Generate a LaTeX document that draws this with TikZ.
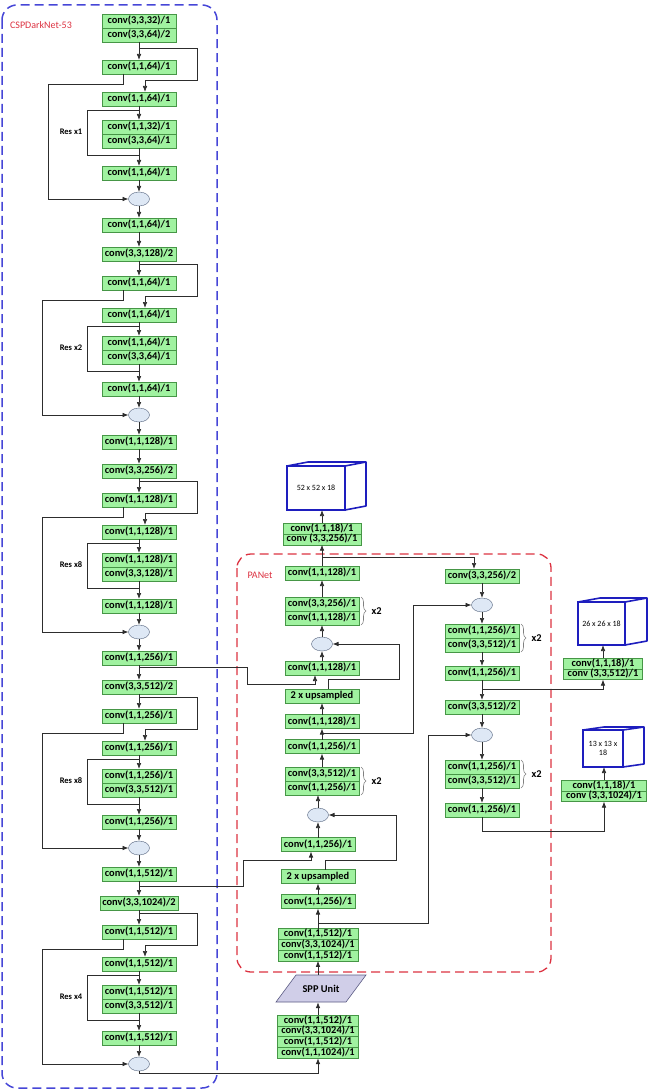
\documentclass[tikz,border=0pt]{standalone}
\usepackage{fontspec}
\setmainfont{Carlito}
\usetikzlibrary{positioning,shapes.geometric,arrows.meta,decorations.pathreplacing}
\definecolor{boxgreen}{RGB}{160,242,160}
\definecolor{boxedge}{RGB}{70,150,70}
\definecolor{catfill}{RGB}{222,232,245}
\definecolor{catedge}{RGB}{80,95,120}
\definecolor{linegray}{RGB}{45,45,45}
\definecolor{csblue}{RGB}{70,70,215}
\definecolor{panred}{RGB}{220,50,65}
\definecolor{cubeblue}{RGB}{30,30,190}
\definecolor{sppfill}{RGB}{208,206,232}
\definecolor{sppedge}{RGB}{90,90,130}
\newcommand{\cvf}{\fontsize{10.4pt}{11pt}\selectfont\bfseries}

\begin{document}
\begin{tikzpicture}[x=1pt,y=-1pt,>={Latex[length=6pt,width=4.6pt]},
  blk/.style={draw=boxedge,fill=boxgreen,font=\cvf,minimum width=74pt,minimum height=14pt,inner xsep=2pt,inner ysep=0pt,outer sep=0pt,text height=7.6pt,text depth=2.3pt},
  tblk/.style={blk,minimum height=10.8pt},
  cat/.style={ellipse,draw=catedge,fill=catfill,minimum width=21pt,minimum height=14pt,inner sep=0pt,outer sep=0pt},
  arr/.style={draw=linegray,line width=0.7pt,->},
  ln/.style={draw=linegray,line width=0.7pt},
  reslbl/.style={font=\fontsize{8.5pt}{10pt}\selectfont\bfseries},
  brc/.style={draw=gray,line width=0.6pt,decorate,decoration={brace,amplitude=5pt}},
  cubebox/.style={draw=cubeblue,line width=1.6pt,fill=white,inner sep=0pt,outer sep=0pt,font=\fontsize{8pt}{9.5pt}\selectfont,align=center},
  cubeline/.style={draw=cubeblue,line width=1.6pt,line join=round}]
\useasboundingbox (0,0) rectangle (649,1091);

\draw[csblue,line width=1.5pt,dash pattern=on 9pt off 5pt,rounded corners=15pt] (2,5) rectangle (217,1088);
\node[text=panred,font=\fontsize{10pt}{12pt}\selectfont] (bbtitle) at (41,25) {CSPDarkNet-53};
\draw[panred,line width=1.3pt,dash pattern=on 9pt off 5pt,rounded corners=14pt] (237,554) rectangle (551,972);
\node[text=panred,font=\fontsize{10pt}{12pt}\selectfont] (pantitle) at (260,575) {PANet};

\node[blk] (trans1) at (139,21) {conv(3,3,32)/1};
\node[blk,below=0pt of trans1] (down1) {conv(3,3,64)/2};
\foreach \i/\e/\t/\d in {2/415/64/128,3/632/128/256,4/848/256/512,5/1064/512/1024}{
  \node[blk] (trans\i) at (139,\e-190) {conv(1,1,\t)/1};
  \node[blk] (down\i) at (139,\e-161) {conv(3,3,\d)/2};
  \draw[arr] (trans\i) -- (down\i);
}
\foreach \i/\e/\c/\ra/\rb/\n/\s in {1/199/64/32/64/1/48,2/415/64/64/64/2/42,3/632/128/128/128/8/42,4/848/256/256/512/8/42,5/1064/512/512/512/4/42}{
  \node[blk] (cA\i) at (139,\e-132) {conv(1,1,\c)/1};
  \node[blk] (cB\i) at (139,\e-100) {conv(1,1,\c)/1};
  \node[blk] (rA\i) at (139,\e-72) {conv(1,1,\ra)/1};
  \node[blk,below=0pt of rA\i] (rB\i) {conv(3,3,\rb)/1};
  \node[blk] (cC\i) at (139,\e-26) {conv(1,1,\c)/1};
  \node[cat] (cat\i) at (139,\e) {};
  \node[reslbl] (res\i) at (71,\e-67) {Res x\n};
  \coordinate (sp\i) at (139,\e-151);
  \draw[arr] (down\i) -- (cA\i);
  \draw[arr] (sp\i) -- ++(58,0) -- ++(0,32) -| ([xshift=6pt]cB\i.north);
  \draw[arr] ([xshift=-16pt]cA\i.south) -- ++(0,10) -| (\s,\e) -- (cat\i);
  \draw[arr] (cB\i) -- (rA\i);
  \draw[ln] (cB\i.south) ++(0,4) -- ++(-52,0) -- ++(0,45) -- ++(52,0);
  \draw[arr] (rB\i) -- (cC\i);
  \draw[arr] (cC\i) -- (cat\i);
}
\foreach \i [count=\j from 2] in {1,...,4}
  \draw[arr] (cat\i) -- (trans\j);

\node[tblk,minimum width=81pt] (s1) at (318,1020.4) {conv(1,1,512)/1};
\node[tblk,minimum width=81pt,below=0pt of s1] (s2) {conv(3,3,1024)/1};
\node[tblk,minimum width=81pt,below=0pt of s2] (s3) {conv(1,1,512)/1};
\node[tblk,minimum width=81pt,below=0pt of s3] (s4) {conv(1,1,1024)/1};
\filldraw[fill=sppfill,draw=sppedge,line width=0.6pt] (296,975) -- (366,975) -- (346,1002) -- (276,1002) -- cycle;
\node[font=\cvf,minimum width=50pt,minimum height=27pt,inner sep=0pt] (spp) at (321,988.5) {SPP Unit};

\node[tblk,minimum width=80pt] (pA) at (318,933.9) {conv(1,1,512)/1};
\node[tblk,minimum width=80pt,below=0pt of pA] (pB) {conv(3,3,1024)/1};
\node[tblk,minimum width=80pt,below=0pt of pB] (pC) {conv(1,1,512)/1};
\node[blk] (pD) at (318,901.5) {conv(1,1,256)/1};
\node[blk] (pE) at (318,876.5) {2 x upsampled};
\node[blk] (pF) at (318,844.5) {conv(1,1,256)/1};
\node[cat] (pcat1) at (318,815) {};
\node[blk] (pG) at (322,774) {conv(3,3,512)/1};
\node[blk,below=0pt of pG] (pH) {conv(1,1,256)/1};
\node[blk] (pI) at (322,746.5) {conv(1,1,256)/1};
\node[blk] (pJ) at (322,721.5) {conv(1,1,128)/1};
\node[blk] (pK) at (322,696) {2 x upsampled};
\node[blk] (pL) at (322,668) {conv(1,1,128)/1};
\node[cat] (pcat2) at (322,644) {};
\node[blk] (pM) at (322,604) {conv(3,3,256)/1};
\node[blk,below=0pt of pM] (pN) {conv(1,1,128)/1};
\node[blk] (pO) at (322,573) {conv(1,1,128)/1};
\node[tblk,minimum width=78pt] (o1a) at (322,528.5) {conv(1,1,18)/1};
\node[tblk,minimum width=78pt,below=0pt of o1a] (o1b) {conv (3,3,256)/1};
\node[cubebox,minimum width=58pt,minimum height=44pt] (cube1) at (316,488) {52 x 52 x 18};

\node[blk] (qA) at (482,576) {conv(3,3,256)/2};
\node[cat] (qcat1) at (482,605) {};
\node[blk] (qB) at (482,631) {conv(1,1,256)/1};
\node[blk,below=0pt of qB] (qC) {conv(3,3,512)/1};
\node[blk] (qD) at (482,673) {conv(1,1,256)/1};
\node[blk] (qE) at (482,707) {conv(3,3,512)/2};
\node[cat] (qcat2) at (482,735) {};
\node[blk] (qF) at (482,767) {conv(1,1,256)/1};
\node[blk,below=0pt of qF] (qG) {conv(3,3,512)/1};
\node[blk] (qH) at (482,810) {conv(1,1,256)/1};

\node[tblk,minimum width=79pt] (o2a) at (603,663.4) {conv(1,1,18)/1};
\node[tblk,minimum width=79pt,below=0pt of o2a] (o2b) {conv (3,3,512)/1};
\node[cubebox,minimum width=47pt,minimum height=43pt] (cube2) at (601.5,623.5) {26 x 26 x 18};
\node[tblk,minimum width=85pt] (o3a) at (604,785.4) {conv(1,1,18)/1};
\node[tblk,minimum width=85pt,below=0pt of o3a] (o3b) {conv (3,3,1024)/1};
\node[cubebox,minimum width=40pt,minimum height=37pt] (cube3) at (603,748.5) {13 x 13 x\\18};
\foreach \n/\w/\h/\dx/\dy in {1/58/44/21/4,2/47/43/22/4,3/40/37/21/3}
  \draw[cubeline] (cube\n.north west) -- ++(\dx,-\dy) -- ++(\w,0) -- ++(0,\h) -- (cube\n.south east)
    (cube\n.north east) -- ++(\dx,-\dy);

\draw[arr] (cat5.south) -- ++(0,2) -| (s4.south);
\draw[arr] (s1) -- (s1 |- spp.south);
\draw[arr] (pC.south |- spp.north) -- (pC);
\draw[arr] (pA) -- (pD);
\draw[arr] (pA.north) ++(0,-5) -- ++(110,0) |- (qcat2);
\draw[arr] (pD) -- (pE);
\draw[arr] ([xshift=7pt]pE.north) -- ++(0,-9) -- ++(71,0) |- (pcat1);
\draw[arr] (trans5.south) ++(0,5) -- ++(104,0) -- ++(0,-26) -| ([xshift=-7pt]pF.south);
\draw[arr] (pF) -- (pcat1);
\draw[arr] (pcat1) -- (pcat1 |- pH.south);
\draw[arr] (pG) -- (pI);
\draw[arr] (pI) -- (pJ);
\draw[arr] (pJ.south) ++(0,5) -- ++(91,0) |- (qcat1);
\draw[arr] (pJ) -- (pK);
\draw[arr] ([xshift=6pt]pK.north) -- ++(0,-10) -- ++(71,0) |- (pcat2);
\draw[arr] (trans4.south) ++(0,2) -- ++(108,0) -- ++(0,17) -| ([xshift=-7pt]pL.south);
\draw[arr] (pL) -- (pcat2);
\draw[arr] (pcat2) -- (pN);
\draw[arr] (pM) -- (pO);
\draw[arr] (pO) -- (o1b);
\draw[arr] (pO.north) ++(0,-9) -| ([xshift=-8pt]qA.north);
\draw[arr] (o1a) -- (o1a |- cube1.south);

\draw[arr] (qA) -- (qcat1);
\draw[arr] (qcat1) -- (qB);
\draw[arr] (qC) -- (qD);
\draw[arr] (qD) -- (qE);
\draw[arr] (qD.south) ++(0,9) -| (o2b.south);
\draw[arr] (o2a) -- (o2a |- cube2.south);
\draw[arr] (qE) -- (qcat2);
\draw[arr] (qcat2) -- (qF);
\draw[arr] (qG) -- (qH);
\draw[arr] (qH.south) -- ++(0,14) -| (o3b.south);
\draw[arr] (o3a) -- (o3a |- cube3.south);

\foreach \u/\v in {pM/pN,pG/pH,qB/qC,qF/qG}
  \draw[brc] ([xshift=2pt]\u.north east) -- ([xshift=2pt]\v.south east)
    node[midway,right=7pt,font=\cvf,text=black] {x2};
\end{tikzpicture}
\end{document}
